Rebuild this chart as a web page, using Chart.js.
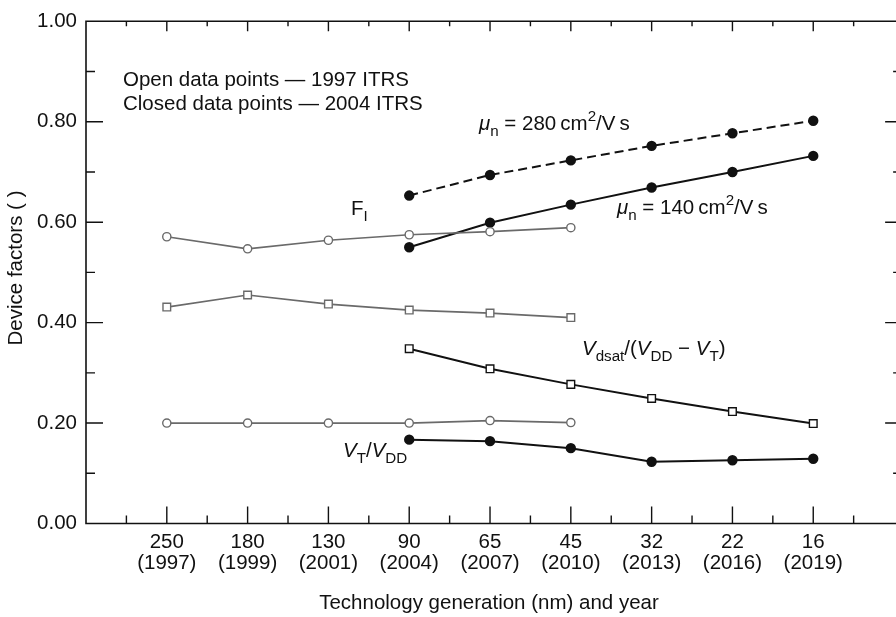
<!DOCTYPE html>
<html>
<head>
<meta charset="utf-8">
<script src="https://cdn.jsdelivr.net/npm/chart.js@4.4.1/dist/chart.umd.min.js"></script>
<style>
  html, body { margin: 0; padding: 0; background: #fff; }
  #wrap { width: 896px; height: 617px; position: relative; }
</style>
</head>
<body>
<div id="wrap"><canvas id="chart1"></canvas></div>
<script>
const categories = ["250", "180", "130", "90", "65", "45", "32", "22", "16"];
const years = ["1997", "1999", "2001", "2004", "2007", "2010", "2013", "2016", "2019"];
const yTicks = [0, 0.2, 0.4, 0.6, 0.8, 1.0];

// 1997 ITRS (open points), from 250 nm to 45 nm
const fiOld = [0.571, 0.547, 0.564, 0.575, 0.581, 0.589];
const vdsatOld = [0.431, 0.455, 0.437, 0.425, 0.419, 0.410];
const vtOld = [0.200, 0.200, 0.200, 0.200, 0.205, 0.201];
// 2004 ITRS (closed points), from 90 nm to 16 nm
const mu280New = [0.653, 0.694, 0.723, 0.752, 0.777, 0.802];
const mu140New = [0.550, 0.599, 0.635, 0.669, 0.700, 0.732];
const vdsatNew = [0.348, 0.308, 0.277, 0.249, 0.223, 0.199];
const vtNew = [0.167, 0.164, 0.150, 0.123, 0.126, 0.129];

const oldStart = 0;
const newStart = categories.indexOf("90");
const toPoints = (vals, start) => vals.map((v, i) => ({ x: start + i, y: v }));

const FONT = "'Liberation Sans', Arial, Helvetica, sans-serif";
const GRAY = "#6a6a6a";
const FS = 20.5;

function grayOpen(label, vals, style) {
    return {
        label, data: toPoints(vals, oldStart),
        borderColor: GRAY, borderWidth: 1.7,
        pointStyle: style, pointRadius: style === "rect" ? 5.4 : 4.1,
        pointBackgroundColor: "#fff", pointBorderColor: GRAY, pointBorderWidth: 1.4
    };
}

function rich(ctx, x, y, parts, size) {
    let cx = x;
    parts.forEach(([t, f]) => {
        const small = f.includes("b") || f.includes("p");
        const s = small ? size * 0.74 : size;
        ctx.font = (f.includes("i") ? "italic " : "") + s + "px " + FONT;
        let dy = 0;
        if (f.includes("b")) dy = size * 0.3;
        if (f.includes("p")) dy = -size * 0.42;
        ctx.fillText(t, cx, y + dy);
        cx += ctx.measureText(t).width;
    });
}

const framePlugin = {
    id: "frame",
    afterDraw(chart) {
        const ctx = chart.ctx;
        const xs = chart.scales.x, ys = chart.scales.y;
        const a = chart.chartArea;
        const rightX = xs.getPixelForValue(9.1);
        ctx.save();
        ctx.strokeStyle = "#111";
        ctx.lineWidth = 1.6;
        ctx.beginPath();
        ctx.moveTo(rightX, a.top); ctx.lineTo(a.left, a.top);
        ctx.lineTo(a.left, a.bottom); ctx.lineTo(rightX, a.bottom);
        ctx.lineTo(rightX, a.top);
        ctx.stroke();
        ctx.lineWidth = 1.4;
        ctx.beginPath();
        for (let v = -0.5; v < 9; v += 0.5) {
            const px = xs.getPixelForValue(v);
            const major = Number.isInteger(v);
            ctx.moveTo(px, a.bottom); ctx.lineTo(px, a.bottom - (major ? 17 : 8));
            ctx.moveTo(px, a.top); ctx.lineTo(px, a.top + (major ? 10 : 5));
        }
        for (let k = 1; k < 10; k++) {
            const py = ys.getPixelForValue(k / 10);
            const major = k % 2 === 0;
            ctx.moveTo(a.left, py); ctx.lineTo(a.left + (major ? 17 : 9), py);
            ctx.moveTo(rightX, py); ctx.lineTo(rightX - (major ? 17 : 9), py);
        }
        ctx.stroke();

        ctx.fillStyle = "#111";
        ctx.textBaseline = "alphabetic";
        ctx.textAlign = "left";
        rich(ctx, 123, 86, [["Open data points \u2014 1997 ITRS", ""]], FS);
        rich(ctx, 123, 110, [["Closed data points \u2014 2004 ITRS", ""]], FS);
        rich(ctx, 479, 130, [["\u03bc", "i"], ["n", "b"], [" = 280\u2009cm", ""], ["2", "p"], ["/V\u2009s", ""]], FS);
        rich(ctx, 617, 214, [["\u03bc", "i"], ["n", "b"], [" = 140\u2009cm", ""], ["2", "p"], ["/V\u2009s", ""]], FS);
        rich(ctx, 351, 215, [["F", ""], ["I", "b"]], FS);
        rich(ctx, 582, 355, [["V", "i"], ["dsat", "b"], ["/(", ""], ["V", "i"], ["DD", "b"], [" \u2212 ", ""], ["V", "i"], ["T", "b"], [")", ""]], FS);
        rich(ctx, 343, 457, [["V", "i"], ["T", "b"], ["/", ""], ["V", "i"], ["DD", "b"]], FS);

        ctx.font = FS + "px " + FONT;
        ctx.textAlign = "center";
        ctx.fillText("Technology generation (nm) and year", 489, 609);
        ctx.translate(22, 268);
        ctx.rotate(-Math.PI / 2);
        ctx.fillText("Device factors ( )", 0, 0);
        ctx.restore();
    }
};

const chart1 = document.getElementById("chart1");

const lineChart = new Chart(chart1, {
    type: "line",
    data: {
        datasets: [
            grayOpen("FI 1997", fiOld, "circle"),
            grayOpen("Vdsat 1997", vdsatOld, "rect"),
            grayOpen("VT 1997", vtOld, "circle"),
            {
                label: "mu 280", data: toPoints(mu280New, newStart),
                borderColor: "#111", borderWidth: 2, borderDash: [9, 5],
                pointRadius: 4.2, pointBackgroundColor: "#111", pointBorderColor: "#111"
            },
            {
                label: "mu 140", data: toPoints(mu140New, newStart),
                borderColor: "#111", borderWidth: 2,
                pointRadius: 4.2, pointBackgroundColor: "#111", pointBorderColor: "#111"
            },
            {
                label: "Vdsat 2004", data: toPoints(vdsatNew, newStart),
                borderColor: "#111", borderWidth: 2,
                pointStyle: "rect", pointRadius: 5.4,
                pointBackgroundColor: "#fff", pointBorderColor: "#111", pointBorderWidth: 1.4
            },
            {
                label: "VT 2004", data: toPoints(vtNew, newStart),
                borderColor: "#111", borderWidth: 2,
                pointRadius: 4.2, pointBackgroundColor: "#111", pointBorderColor: "#111"
            }
        ]
    },
    options: {
        responsive: true,
        maintainAspectRatio: false,
        animation: false,
        layout: { padding: { top: 14, left: 0, right: 0, bottom: 0 } },
        plugins: { legend: { display: false }, tooltip: { enabled: false } },
        elements: { line: { tension: 0 } },
        scales: {
            x: {
                type: "linear",
                min: -1,
                max: 8.94,
                afterBuildTicks: (s) => { s.ticks = categories.map((c, i) => ({ value: i })); },
                afterFit: (s) => { s.height = 93.5; },
                grid: { display: false, drawTicks: false },
                border: { display: false },
                ticks: {
                    padding: 8,
                    color: "#111",
                    maxRotation: 0,
                    autoSkip: false,
                    font: { family: FONT, size: FS, lineHeight: 1.02 },
                    callback: (v) => [categories[v], "(" + years[v] + ")"]
                }
            },
            y: {
                min: 0,
                max: 1,
                afterBuildTicks: (s) => { s.ticks = yTicks.map(v => ({ value: v })); },
                afterFit: (s) => { s.width = 86; },
                grid: { display: false, drawTicks: false },
                border: { display: false },
                ticks: {
                    padding: 9,
                    color: "#111",
                    font: { family: FONT, size: FS },
                    callback: (v) => v.toFixed(2)
                }
            }
        }
    },
    plugins: [framePlugin]
});
</script>
</body>
</html>
